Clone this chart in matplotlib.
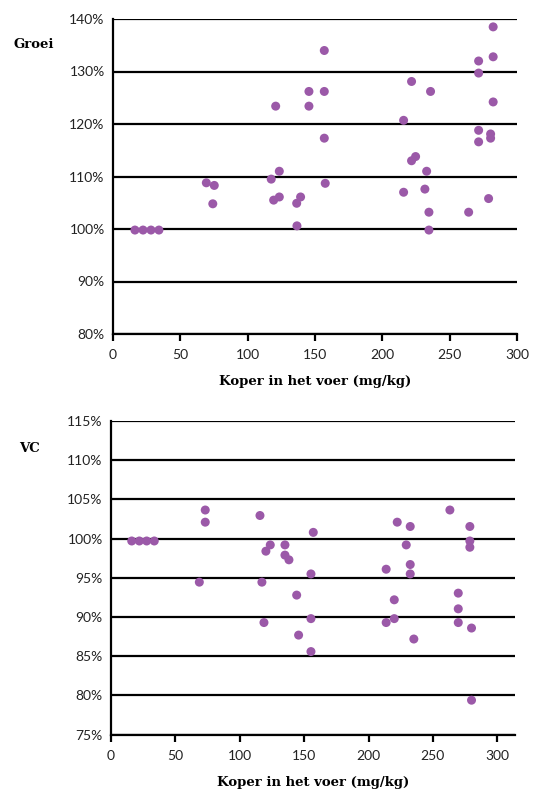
import matplotlib
matplotlib.use("Agg")
import matplotlib.pyplot as plt
from matplotlib.ticker import FuncFormatter

# Groei (growth) data: copper in feed (mg/kg) vs growth (%)
groei_x = [282.3, 156.9, 282.3, 271.5, 271.5, 221.7, 145.5, 156.9, 235.8, 282.3,
           120.8, 145.5, 215.8, 271.5, 280.4, 280.4, 271.5, 156.9, 224.7, 221.7,
           232.9, 123.5, 117.5, 69.3, 75.2, 157.6, 215.8, 231.6, 74.1, 119.3,
           123.5, 136.4, 139.3, 278.9, 234.6, 264.1, 136.6, 234.6,
           16.3, 22.3, 28.2, 34.1]
groei_y = [138.5, 134.0, 132.8, 132.0, 129.7, 128.1, 126.2, 126.2, 126.2, 124.2,
           123.4, 123.4, 120.7, 118.8, 118.1, 117.3, 116.6, 117.3, 113.8, 113.0,
           111.0, 111.0, 109.5, 108.8, 108.3, 108.7, 107.0, 107.6, 104.8, 105.5,
           106.1, 104.9, 106.1, 105.8, 103.2, 103.2, 100.6, 99.8,
           99.8, 99.8, 99.8, 99.8]

# VC (feed conversion) data
vc_x = [73.2, 73.2, 115.7, 263.2, 222.3, 232.4, 278.7, 157.1,
        16.1, 22.0, 27.7, 33.6, 278.7, 278.7, 123.7, 135.1, 120.3, 135.1,
        138.2, 229.3, 232.4, 213.7, 155.3, 232.4,
        68.6, 117.2, 269.7, 220.0, 144.2, 269.7, 155.3, 220.0, 118.8,
        213.7, 269.7, 280.0, 145.7, 235.2, 155.3, 280.0]
vc_y = [103.65, 102.1, 102.95, 103.65, 102.1, 101.55, 101.55, 100.8,
        99.7, 99.7, 99.7, 99.7, 99.7, 98.9, 99.2, 99.2, 98.4, 97.9,
        97.3, 99.2, 96.7, 96.1, 95.5, 95.5,
        94.45, 94.45, 93.05, 92.2, 92.8, 91.05, 89.8, 89.8, 89.3,
        89.3, 89.3, 88.6, 87.7, 87.2, 85.6, 79.4]

x_ticks = [0, 50, 100, 150, 200, 250, 300]
groei_ticks = [80, 90, 100, 110, 120, 130, 140]
vc_ticks = [75, 80, 85, 90, 95, 100, 105, 110, 115]

xlabel = "Koper in het voer (mg/kg)"
purple = "#9B59A8"

W, H = 537, 791
fig = plt.figure(figsize=(W / 100, H / 100), dpi=100)

tick_font = dict(family="Lato", size=10)
label_font = dict(family="DejaVu Serif", weight="bold", size=9.5)

pct = FuncFormatter(lambda v, p: f"{v:.0f}%")


def style(ax, yticks, xlim):
    ax.set_xlim(*xlim)
    ax.set_ylim(yticks[0], yticks[-1])
    ax.set_xticks(x_ticks)
    ax.set_yticks(yticks)
    ax.yaxis.set_major_formatter(pct)
    for s in ["top", "right"]:
        ax.spines[s].set_visible(False)
    for s in ["left", "bottom"]:
        ax.spines[s].set_linewidth(1.6)
        ax.spines[s].set_color("black")
    ax.grid(axis="y", color="black", linewidth=1.6)
    ax.set_axisbelow(True)
    ax.tick_params(axis="x", direction="out", length=5, width=1.6, pad=6)
    ax.tick_params(axis="y", length=0, pad=6)
    for lbl in ax.get_xticklabels() + ax.get_yticklabels():
        lbl.set_fontfamily(tick_font["family"])
        lbl.set_fontsize(tick_font["size"])
        lbl.set_color("#222222")


ax1 = fig.add_axes([113 / W, 1 - 334 / H, 404 / W, 315 / H])
ax1.scatter(groei_x, groei_y, s=42, color=purple, edgecolors="none", zorder=3, clip_on=False)
style(ax1, groei_ticks, (0, 300))
ax1.set_xlabel(xlabel, fontdict=label_font, labelpad=10)

ax2 = fig.add_axes([111 / W, 1 - 734.7 / H, 404.3 / W, 313.7 / H])
ax2.scatter(vc_x, vc_y, s=42, color=purple, edgecolors="none", zorder=3, clip_on=False)
style(ax2, vc_ticks, (0, 314))
ax2.set_xlabel(xlabel, fontdict=label_font, labelpad=10)

fig.text(13 / W, 1 - 44 / H, "Groei", ha="left", va="center", **label_font)
fig.text(19 / W, 1 - 448 / H, "VC", ha="left", va="center", **label_font)

fig.savefig("out.png", dpi=100, facecolor="white")
